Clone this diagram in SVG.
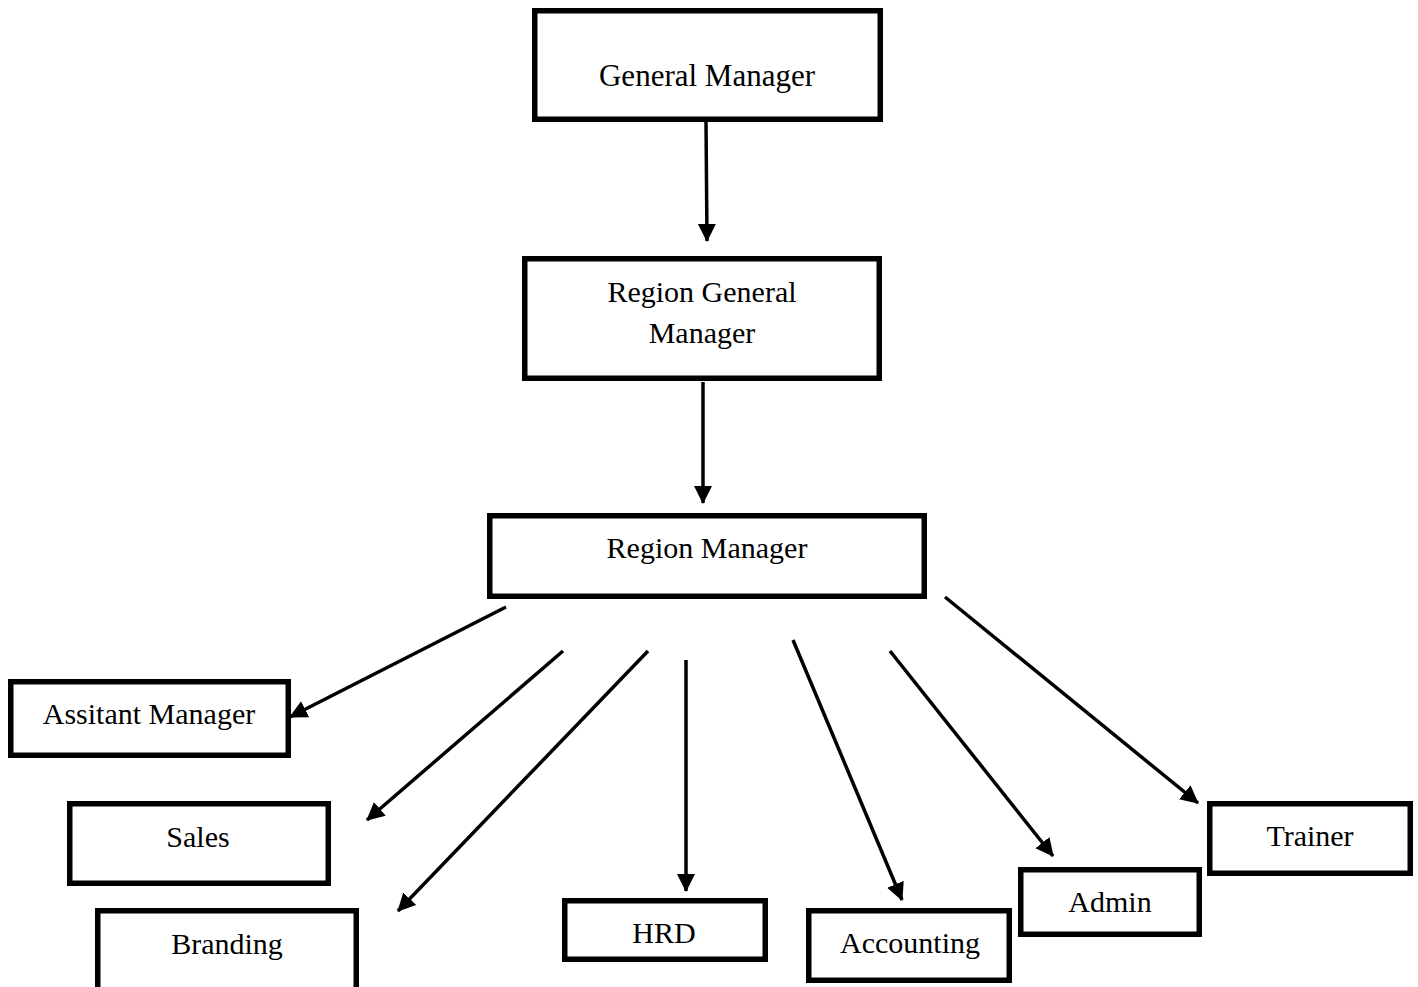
<svg xmlns="http://www.w3.org/2000/svg" width="1418" height="987" viewBox="0 0 1418 987">
<style>
.box{fill:#fff;stroke:#000;stroke-width:5.5}
.lbl{font-family:"Liberation Serif","Times New Roman",serif;font-size:30px;fill:#000;text-anchor:middle}
.con{stroke:#000;stroke-width:3.5;fill:none;marker-end:url(#ah)}
</style>
<defs>
<marker id="ah" markerUnits="userSpaceOnUse" markerWidth="20" markerHeight="20" refX="17" refY="9" orient="auto">
<path d="M0,0 L18,9 L0,18 z" fill="#000"/>
</marker>
</defs>
<rect width="1418" height="987" fill="#fff"/>
<g id="connectors">
<line class="con" x1="706" y1="122" x2="707" y2="241"/>
<line class="con" x1="703" y1="382" x2="703" y2="503"/>
<line class="con" x1="506" y1="607" x2="290" y2="717"/>
<line class="con" x1="563" y1="651" x2="367" y2="820"/>
<line class="con" x1="648" y1="651" x2="398" y2="911"/>
<line class="con" x1="686" y1="660" x2="686" y2="891"/>
<line class="con" x1="793" y1="640" x2="902" y2="900"/>
<line class="con" x1="890" y1="651" x2="1053" y2="856"/>
<line class="con" x1="945" y1="597" x2="1198" y2="803"/>
</g>
<g id="general-manager">
<rect class="box" x="534.75" y="10.75" width="345.5" height="108.5"/>
<text class="lbl" x="707" y="86" style="font-size:31px">General Manager</text>
</g>
<g id="region-general-manager">
<rect class="box" x="524.75" y="258.75" width="354.5" height="119.5"/>
<text class="lbl" x="702" y="302">Region General</text>
<text class="lbl" x="702" y="343">Manager</text>
</g>
<g id="region-manager">
<rect class="box" x="489.75" y="515.75" width="434.5" height="80.5"/>
<text class="lbl" x="707" y="558">Region Manager</text>
</g>
<g id="assistant-manager">
<rect class="box" x="10.75" y="681.75" width="277.5" height="73.5"/>
<text class="lbl" x="149" y="724">Assitant Manager</text>
</g>
<g id="sales">
<rect class="box" x="69.75" y="803.75" width="258.5" height="79.5"/>
<text class="lbl" x="198" y="847">Sales</text>
</g>
<g id="branding">
<rect class="box" x="97.75" y="910.75" width="258.5" height="90"/>
<text class="lbl" x="227" y="954">Branding</text>
</g>
<g id="hrd">
<rect class="box" x="564.75" y="900.75" width="200.5" height="58.5"/>
<text class="lbl" x="664" y="943">HRD</text>
</g>
<g id="accounting">
<rect class="box" x="808.75" y="910.75" width="200.5" height="69.5"/>
<text class="lbl" x="910" y="953">Accounting</text>
</g>
<g id="admin">
<rect class="box" x="1020.75" y="869.75" width="178.5" height="64.5"/>
<text class="lbl" x="1110" y="912">Admin</text>
</g>
<g id="trainer">
<rect class="box" x="1209.75" y="803.75" width="200.5" height="69.5"/>
<text class="lbl" x="1310" y="846">Trainer</text>
</g>
</svg>
